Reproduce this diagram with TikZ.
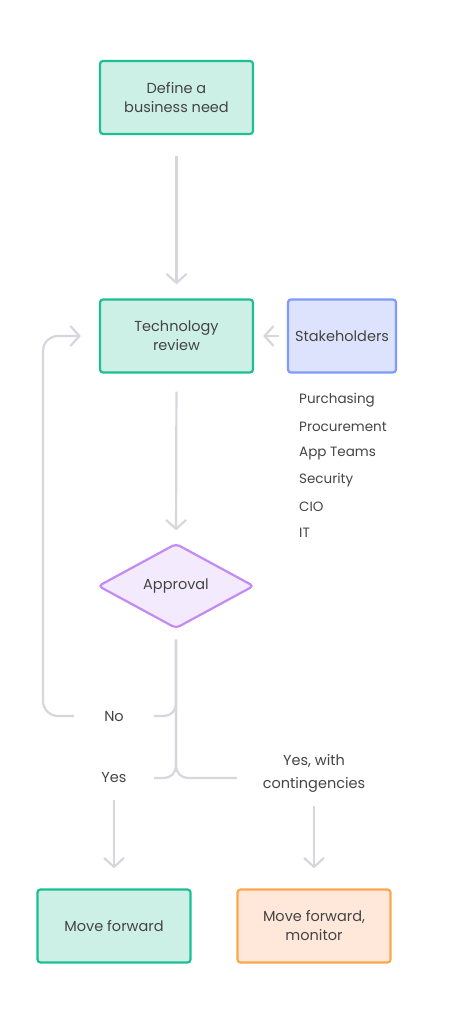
\documentclass[tikz,border=0pt]{standalone}
\usepackage{fontspec}
\setmainfont{Poppins}
\usetikzlibrary{arrows.meta, shapes.geometric}

\definecolor{greenline}{HTML}{1DBF94}
\definecolor{greenfill}{HTML}{CCEFE6}
\definecolor{blueline}{HTML}{7E9BFB}
\definecolor{bluefill}{HTML}{DDE3FD}
\definecolor{purpleline}{HTML}{C28AF3}
\definecolor{purplefill}{HTML}{F4EAFE}
\definecolor{orangeline}{HTML}{FBA74C}
\definecolor{orangefill}{HTML}{FFE8DA}
\definecolor{connline}{HTML}{D6D6DE}
\definecolor{txtgray}{HTML}{444444}

\begin{document}
\begin{tikzpicture}[
    x=1pt, y=-1pt,
    box/.style={rectangle, rounded corners=3pt, line width=2.2pt,
        minimum width=153pt, minimum height=73pt, align=center,
        text=txtgray, font=\fontsize{14.5}{19}\selectfont, inner sep=2pt},
    greenbox/.style={box, draw=greenline, fill=greenfill},
    bluebox/.style={box, draw=blueline, fill=bluefill, minimum width=108pt},
    orangebox/.style={box, draw=orangeline, fill=orangefill},
    decision/.style={diamond, aspect=1.84, minimum width=156pt,
        minimum height=85pt, rounded corners=4pt, line width=2.2pt,
        draw=purpleline, fill=purplefill, text=txtgray,
        font=\fontsize{14.5}{19}\selectfont, inner sep=0pt},
    branch/.style={text=txtgray, font=\fontsize{14.5}{23}\selectfont,
        minimum width=80pt, inner sep=0pt, align=center},
    member/.style={text=txtgray, font=\fontsize{13.5}{15}\selectfont,
        anchor=west, inner sep=0pt},
    link/.style={line width=2.2pt, draw=connline},
    conn/.style={link, -{Straight Barb[length=9pt, width=20pt]}},
]
\useasboundingbox (0,0) rectangle (452,1024);

% =============================================================================
% Review stage
% =============================================================================
\node[greenbox] (need) at (176.5, 97.5) {Define a\\business need};
\node[greenbox] (tech) at (176.5, 336) {Technology\\review};
\node[bluebox] (stake) at (342, 336) {Stakeholders};

% Who takes part
\foreach \name [count=\i] in {Purchasing, Procurement, App Teams, Security, CIO, IT} {
    \node[member] (m\i) at (299, {400+26.6*(\i-1)}) {\name};
}

\draw[conn, shorten <=21pt, shorten >=14pt] (need.south) -- (tech.north);
\draw[conn, shorten <=8pt, shorten >=9pt] (stake.west) -- (tech.east);

% =============================================================================
% Decision
% =============================================================================
\node[decision] (appr) at (176, 586) {Approval};
\draw[conn, shorten <=18pt, shorten >=12pt] (tech.south) -- (appr.north);

\node[branch] (no) at (114, 716) {No};
\node[branch] (yes) at (114, 778) {Yes};
\node[branch, minimum width=154pt] (cont) at (314, 773.5) {Yes, with\\contingencies};

\coordinate (fork) at ([yshift=-10pt]appr.south);
\coordinate (loop) at (43, 336);

% Split below the decision
\draw[link, rounded corners=12pt] (fork) |- (no.east);
\draw[link, rounded corners=12pt] (fork) |- (yes.east);
\draw[link, rounded corners=12pt] (fork) |- ([yshift=-4.5pt]cont.west);

% Back to the review
\draw[conn, rounded corners=15pt, shorten >=18pt] (no.west) -| (loop) -- (tech.west);

% =============================================================================
% Outcomes
% =============================================================================
\node[greenbox] (fwd) at (114, 926) {Move forward};
\node[orangebox] (mon) at (314, 926) {Move forward,\\monitor};

\draw[conn, shorten <=22pt, shorten >=20pt] (yes.center) -- (fwd.north);
\draw[conn, shorten <=32pt, shorten >=20pt] (cont.center) -- (mon.north);

\end{tikzpicture}
\end{document}
